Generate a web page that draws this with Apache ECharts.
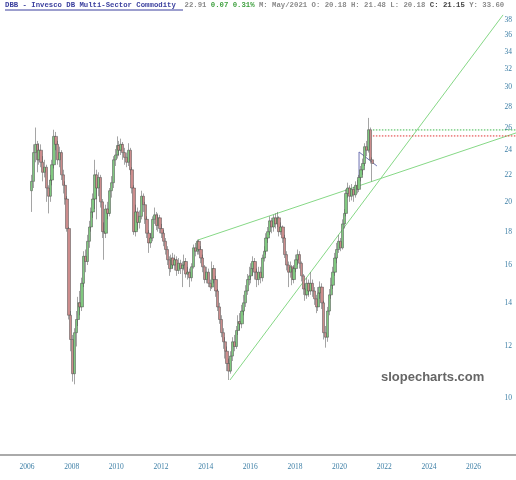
<!DOCTYPE html>
<html><head><meta charset="utf-8">
<script src="https://cdn.jsdelivr.net/npm/echarts@6/dist/echarts.min.js"></script>
<style>html,body{margin:0;padding:0;background:#fff}#c{width:516px;height:480px}</style>
</head><body><div id="c"></div>
<script>
// Monthly candles, first month = March 2006 (chart's time frame)
const firstYear = 2006, firstMonth = 3;
const opens = [
20.8,21.5,23.8,24.5,23.2,24.0,23.0,22.2,22.6,21.0,
20.4,21.6,22.8,25.2,24.5,23.2,23.8,22.0,21.2,20.2,18.2,13.4,
12.3,10.9,12.6,13.2,14.0,13.8,15.0,16.5,16.2,17.4,18.3,19.3,
20.2,22.0,21.0,21.8,20.0,18.0,17.9,19.5,19.2,20.8,21.4,23.2,
23.6,24.4,24.0,24.5,23.8,23.4,23.0,24.0,22.4,21.0,18.0,19.3,
18.6,19.0,20.4,19.8,18.8,17.9,17.3,17.6,18.8,19.1,18.4,18.9,
18.2,17.9,17.4,16.9,16.3,15.8,16.4,16.0,16.3,15.7,16.1,15.8,
16.0,16.2,15.5,15.6,15.3,15.9,17.0,16.8,17.4,16.9,16.4,15.9,
15.2,15.6,15.0,14.8,15.8,15.2,14.6,13.8,13.2,12.6,12.2,11.8,
11.3,11.0,11.6,12.2,12.0,12.7,13.1,13.0,13.6,14.0,14.6,15.2,
15.4,15.8,16.2,15.6,15.2,15.6,15.3,16.4,16.8,17.6,18.0,18.7,
18.3,18.9,18.5,18.9,18.0,18.3,17.6,16.6,16.0,15.6,15.9,15.2,
15.8,16.3,16.6,16.1,15.4,14.7,14.4,15.0,14.6,15.0,14.6,14.2,
13.8,14.5,14.8,14.0,12.6,12.4,13.6,14.4,14.9,15.6,16.4,16.9,
17.4,17.0,18.5,19.2,20.6,21.0,20.4,20.9,20.5,21.2,20.9,21.8,
22.4,22.9,24.3,24.0,25.8,23.2];
const closes = [
21.5,23.8,24.5,23.2,24.0,23.0,22.2,22.6,21.0,20.4,
21.6,22.8,25.2,24.5,23.2,23.8,22.0,21.2,20.2,18.2,13.4,12.3,
10.9,12.6,13.2,14.0,13.8,15.0,16.5,16.2,17.4,18.3,19.3,20.2,
22.0,21.0,21.8,20.0,18.0,17.9,19.5,19.2,20.8,21.4,23.2,23.6,
24.4,24.0,24.5,23.8,23.4,23.0,24.0,22.4,21.0,18.0,19.3,18.6,
19.0,20.4,19.8,18.8,17.9,17.3,17.6,18.8,19.1,18.4,18.9,18.2,
17.9,17.4,16.9,16.3,15.8,16.4,16.0,16.3,15.7,16.1,15.8,16.0,
16.2,15.5,15.6,15.3,15.9,17.0,16.8,17.4,16.9,16.4,15.9,15.2,
15.6,15.0,14.8,15.8,15.2,14.6,13.8,13.2,12.6,12.2,11.8,11.3,
11.0,11.6,12.2,12.0,12.7,13.1,13.0,13.6,14.0,14.6,15.2,15.4,
15.8,16.2,15.6,15.2,15.6,15.3,16.4,16.8,17.6,18.0,18.7,18.3,
18.9,18.5,18.9,18.0,18.3,17.6,16.6,16.0,15.6,15.9,15.2,15.8,
16.3,16.6,16.1,15.4,14.7,14.4,15.0,14.6,15.0,14.6,14.2,13.8,
14.5,14.8,14.0,12.6,12.4,13.6,14.4,14.9,15.6,16.4,16.9,17.4,
17.0,18.5,19.2,20.6,21.0,20.4,20.9,20.5,21.2,20.9,21.8,22.4,
22.9,24.3,24.0,25.8,23.2,22.9];
const highs = [
22.0,24.5,26.0,24.8,24.6,24.5,23.5,23.2,22.8,21.2,
22.0,23.2,25.8,25.6,24.8,24.3,24.0,22.4,21.5,20.4,18.3,13.6,
12.5,12.8,13.6,14.3,14.6,15.3,16.8,16.9,17.8,18.7,19.6,20.6,
23.2,22.4,22.2,22.0,20.2,18.6,19.8,20.0,21.0,21.9,23.5,24.1,
25.2,24.8,25.0,24.7,24.2,23.8,24.6,24.2,22.6,21.2,19.8,19.6,
19.4,20.8,20.6,20.0,19.0,18.1,17.9,19.0,19.6,19.3,19.2,19.1,
18.5,18.1,17.6,17.1,16.5,16.6,16.7,16.6,16.5,16.4,16.3,16.2,
16.6,16.4,15.9,15.8,16.1,17.2,17.3,17.5,17.5,17.1,16.6,16.0,
15.9,15.8,15.2,16.2,16.0,15.4,14.7,14.0,13.4,12.8,12.4,12.0,
11.5,11.8,12.4,12.5,12.9,13.4,13.5,13.9,14.4,14.9,15.5,15.9,
16.1,16.5,16.4,15.8,15.9,15.9,16.6,17.1,17.9,18.3,19.0,18.9,
19.1,19.2,19.3,19.0,18.6,18.4,17.8,16.8,16.2,16.2,16.0,16.0,
16.6,16.9,16.8,16.2,15.5,15.0,15.3,15.2,15.6,15.2,14.8,14.4,
14.8,15.1,15.0,14.1,12.9,13.8,14.7,15.3,15.9,16.7,17.3,17.8,
17.6,18.8,19.5,20.9,21.4,21.2,21.3,21.1,21.5,21.6,22.0,22.7,
23.3,24.6,24.8,26.9,26.0,23.4];
const lows = [
19.3,21.0,23.0,22.2,22.8,22.6,21.5,21.8,20.0,19.2,
20.0,21.2,22.5,24.0,22.8,22.6,21.6,20.6,19.8,18.0,13.2,11.8,
10.6,10.5,12.0,12.9,13.4,13.6,14.8,15.6,16.0,17.0,18.0,18.9,
19.5,18.8,20.4,19.6,17.6,16.3,17.6,18.8,19.0,20.3,21.0,22.7,
23.3,23.5,23.6,23.2,22.8,22.6,22.7,22.0,20.6,17.8,17.7,18.1,
18.2,18.8,19.3,18.5,17.6,16.7,17.0,17.4,18.5,18.1,18.0,17.9,
17.6,17.1,16.6,16.0,15.4,15.6,15.8,15.7,15.4,15.5,15.5,14.8,
15.7,15.3,15.2,14.8,15.1,15.8,16.5,16.6,16.6,16.1,15.6,15.0,
15.0,14.8,14.6,14.7,15.0,14.3,13.6,13.0,12.4,11.9,11.5,11.0,
10.66,10.9,11.4,11.8,11.9,12.5,12.7,12.8,13.4,13.8,14.4,14.9,
15.0,15.4,15.2,14.8,14.9,15.0,15.1,16.2,16.6,17.3,17.8,17.9,
18.0,18.2,18.3,17.7,17.8,17.3,16.4,15.7,14.8,15.3,14.9,15.0,
15.6,16.0,15.8,15.1,14.4,14.1,14.2,14.3,14.4,14.3,13.9,13.5,
13.6,14.2,13.7,12.3,11.95,12.2,13.4,14.2,14.7,15.4,16.1,16.7,
16.8,16.9,18.2,19.0,20.3,20.0,20.1,20.0,20.3,20.6,20.7,21.5,
22.0,22.7,23.5,23.8,22.9,21.5];
const yTicks = [10,12,14,16,18,20,22,24,26,28,30,32,34,36,38];
const xTicks = [2006,2008,2010,2012,2014,2016,2018,2020,2022,2024,2026];
// drawn annotations: [chart-time year, price]
const upperTrend = [[2013.66,17.48],[2027.9,25.51]];
const steepTrend = [[2015.09,10.66],[2027.32,38.7]];
const greenLevel = 25.78, redLevel = 25.24, levelFrom = 2021.49, levelTo = 2027.9;
const sketch = [[2020.87,21.44],[2020.87,23.85],[2021.67,22.70]];

const L = Math.log;
const candles = closes.map((c, i) => {
  const mi = firstMonth - 1 + i;
  const x = firstYear + Math.floor(mi / 12) + ((mi % 12) + 0.5) / 12;
  return [x, L(opens[i]), L(c), L(lows[i]), L(highs[i])];
});
const pts = arr => arr.map(p => [p[0], L(p[1])]);

const chart = echarts.init(document.getElementById('c'), null, {renderer: 'canvas'});
const mono = 'Liberation Mono, DejaVu Sans Mono, monospace';
const fs = 7.3;
chart.setOption({
  animation: false,
  backgroundColor: '#fff',
  title: {
    left: 5, top: 2, padding: 0,
    text: '{t|DBB - Invesco DB Multi-Sector Commodity}  {p|22.91} {g|0.07 0.31%} {p|M: May/2021 O: 20.18 H: 21.48 L: 20.18} {b|C: 21.15} {p|Y: 33.60}',
    textStyle: {
      fontFamily: mono, fontSize: fs,
      rich: {
        t: {fontFamily: mono, fontSize: fs, color: '#3a3f9e', fontWeight: 'bold'},
        p: {fontFamily: mono, fontSize: fs, color: '#8a8a8a'},
        g: {fontFamily: mono, fontSize: fs, color: '#3fa03f'},
        b: {fontFamily: mono, fontSize: fs, color: '#444', fontWeight: 'bold'}
      }
    }
  },
  graphic: [
    {type: 'line', shape: {x1: 5, y1: 10, x2: 183, y2: 10}, style: {stroke: '#3a3f9e', lineWidth: 1}},
    {type: 'text', left: 381, top: 371, style: {text: 'slopecharts.com', font: 'bold 13px "Liberation Sans", Arial, sans-serif', fill: '#666'}}
  ],
  grid: {left: 0, right: 0, top: 12, bottom: 25},
  xAxis: {
    type: 'value', min: 2004.79, max: 2027.9,
    axisLine: {show: true, lineStyle: {color: '#aaa', width: 2}},
    axisTick: {show: false}, splitLine: {show: false},
    axisLabel: {customValues: xTicks, margin: 8, color: '#3d7fa6', fontSize: 7.5,
      fontFamily: 'Liberation Serif, serif', formatter: v => String(Math.round(v))}
  },
  yAxis: {
    type: 'value', position: 'right', min: L(8.18), max: L(39.1), scale: true,
    axisLine: {show: false}, axisTick: {show: false}, splitLine: {show: false},
    axisLabel: {inside: true, margin: 4, customValues: yTicks.map(L), color: '#3d7fa6', fontSize: 7.5,
      fontFamily: 'Liberation Serif, serif', formatter: v => String(Math.round(Math.exp(v)))}
  },
  series: [
    {type: 'line', data: pts(upperTrend), symbol: 'none', silent: true, lineStyle: {color: '#86d886', width: 1}, z: 1},
    {type: 'line', data: pts(steepTrend), symbol: 'none', silent: true, lineStyle: {color: '#86d886', width: 1}, z: 1},
    {type: 'line', data: pts([[levelFrom, greenLevel],[levelTo, greenLevel]]), symbol: 'none', silent: true, lineStyle: {color: '#3cb84a', width: 1, type: [1.5, 1.5]}},
    {type: 'line', data: pts([[levelFrom, redLevel],[levelTo, redLevel]]), symbol: 'none', silent: true, lineStyle: {color: '#e03030', width: 1, type: [1.5, 1.5]}},
    {type: 'line', data: pts(sketch), symbol: 'none', silent: true, lineStyle: {color: '#6b70b0', width: 1}},
    {type: 'candlestick', data: candles, encode: {x: 0, y: [1, 2, 3, 4]}, barWidth: 2.8, z: 3,
      itemStyle: {color: '#80c980', color0: '#cc8c8c', borderColor: '#4a4a4a', borderColor0: '#4a4a4a', borderWidth: 0.5}}
  ]
});
</script></body></html>
